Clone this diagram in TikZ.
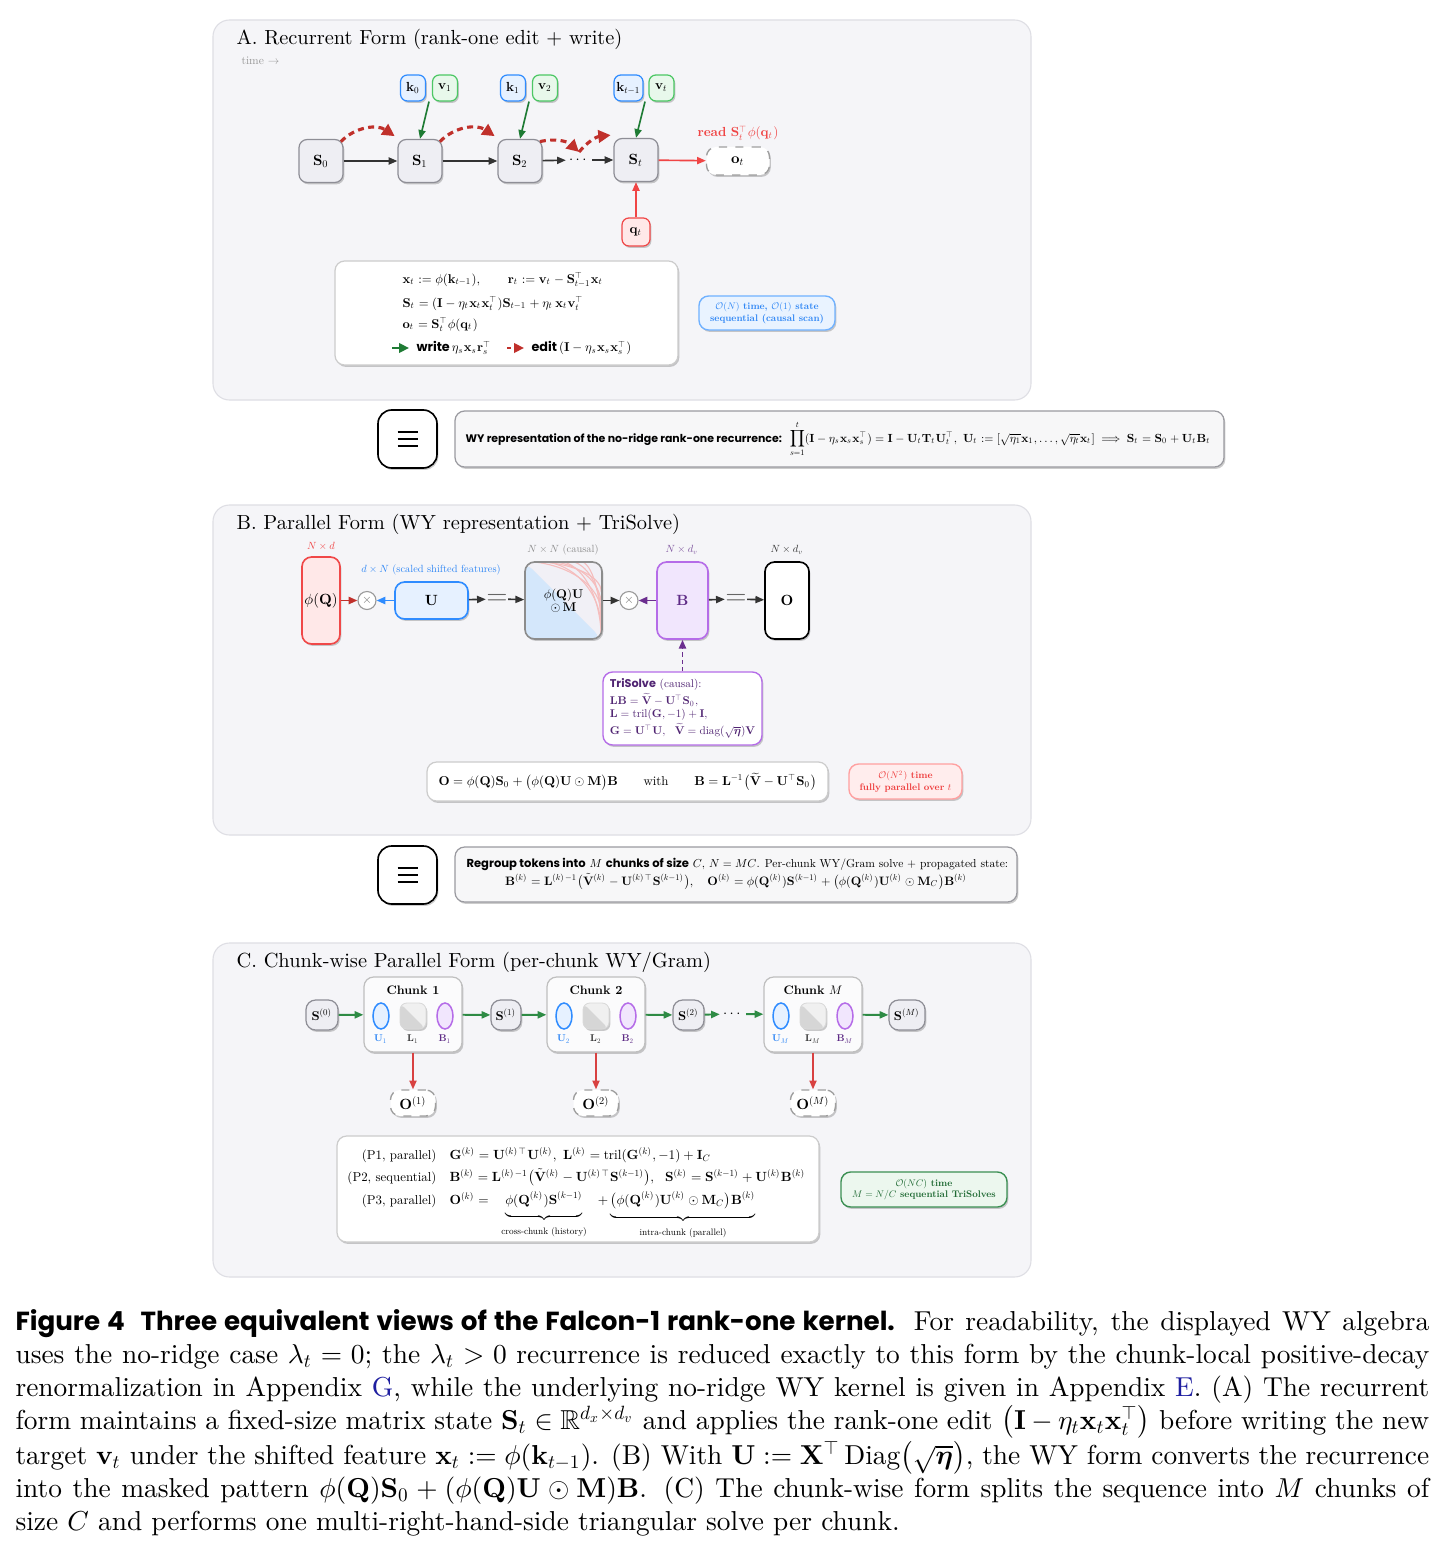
\documentclass[tikz,border=0pt]{standalone}
\usepackage{amsmath,amssymb,bm}
\usepackage{fontspec}
\setmainfont{lmroman10-regular.otf}[BoldFont=lmroman10-bold.otf, ItalicFont=lmroman10-italic.otf, BoldItalicFont=lmroman10-bolditalic.otf]
\newfontfamily\popf{Poppins}
\DeclareFontShape{OML}{cmm}{m}{it}{<->cmmi10}{}
\DeclareFontShape{OML}{cmm}{b}{it}{<->cmmib10}{}
\DeclareFontShape{OMS}{cmsy}{m}{n}{<->cmsy10}{}
\DeclareFontShape{OMS}{cmsy}{b}{n}{<->cmbsy10}{}
\DeclareFontShape{OMX}{cmex}{m}{n}{<->cmex10}{}
\DeclareFontShape{OT1}{cmr}{m}{n}{<->cmr10}{}
\DeclareFontShape{OT1}{cmr}{bx}{n}{<->cmbx10}{}
\usetikzlibrary{arrows.meta,shadows,calc,shapes.geometric}
\newcommand\pxu{0.365pt}
\definecolor{panelbg}{HTML}{F5F5F8}
\definecolor{panelline}{HTML}{DEDEE4}
\definecolor{statefill}{HTML}{EEEEF3}
\definecolor{stateline}{HTML}{8E8E96}
\definecolor{kline}{HTML}{2F8CFF}
\definecolor{kfill}{HTML}{E6F1FF}
\definecolor{vline}{HTML}{4CC764}
\definecolor{vfill}{HTML}{E8F8EB}
\definecolor{qline}{HTML}{F04848}
\definecolor{qfill}{HTML}{FFE8E8}
\definecolor{arrgreen}{HTML}{1E7B34}
\definecolor{chgreen}{HTML}{2E8B45}
\definecolor{arrgray}{HTML}{333333}
\definecolor{editred}{HTML}{C0302B}
\definecolor{readred}{HTML}{F04545}
\definecolor{cxbfill}{HTML}{E9F3FF}
\definecolor{cxbline}{HTML}{6FB1FF}
\definecolor{cxbtext}{HTML}{2E86F5}
\definecolor{cxrfill}{HTML}{FFEDED}
\definecolor{cxrline}{HTML}{FFA0A0}
\definecolor{cxrtext}{HTML}{EE3B3B}
\definecolor{cxgfill}{HTML}{ECF7EE}
\definecolor{cxgline}{HTML}{3A8F52}
\definecolor{cxgtext}{HTML}{1F6A33}
\definecolor{purpline}{HTML}{B56CE8}
\definecolor{purpfill}{HTML}{F1E6FD}
\definecolor{purptext}{HTML}{5E2B86}
\definecolor{purparr}{HTML}{6B2E8F}
\definecolor{maskblue}{HTML}{D4E7FB}
\definecolor{maskbg}{HTML}{F1F0F6}
\definecolor{maskpink}{HTML}{F5BDBD}
\definecolor{linkblue}{HTML}{1F1FA0}
\definecolor{barfill}{HTML}{F7F7F8}
\definecolor{barline}{HTML}{9A9AA0}
\newcommand\fsT{\fontsize{7.45}{9}\selectfont}
\newcommand\fsS{\fontsize{5.4}{6.4}\selectfont}
\newcommand\fsK{\fontsize{4.8}{5.7}\selectfont}
\newcommand\fsF{\fontsize{4.65}{5.6}\selectfont}
\newcommand\fsFB{\fontsize{4.7}{5.6}\selectfont}
\newcommand\fsX{\fontsize{3.5}{4.3}\selectfont}
\newcommand\fsW{\fontsize{4.3}{5}\selectfont}
\newcommand\fsWs{\fontsize{4.0}{5}\selectfont}
\newcommand\fsD{\fontsize{3.8}{4.5}\selectfont}
\newcommand\fsM{\fontsize{4.6}{5.3}\selectfont}
\newcommand\fsE{\fontsize{10}{10}\selectfont}
\newcommand\fsTr{\fontsize{4.1}{4.85}\selectfont}
\newcommand\fsRa{\fontsize{4.22}{5.2}\selectfont}
\newcommand\fsRb{\fontsize{4.45}{5.3}\selectfont}
\newcommand\fsCh{\fontsize{4.5}{5.2}\selectfont}
\newcommand\fsSm{\fontsize{3.6}{4.2}\selectfont}
\newcommand\fsCF{\fontsize{4.7}{5.6}\selectfont}
\newcommand\fsCQ{\fontsize{4.85}{5.8}\selectfont}
\newcommand\fsTi{\fontsize{4.2}{5}\selectfont}
\tikzset{
 panel/.style={draw=panelline, fill=panelbg, rounded corners=6pt, line width=0.4pt},
 shd/.style={drop shadow={shadow xshift=0.5pt, shadow yshift=-0.7pt, opacity=0.2, fill=black}},
 stbox/.style={draw=stateline, fill=statefill, rounded corners=3pt, line width=0.45pt, minimum width=44*\pxu, minimum height=43*\pxu, inner sep=0pt, font=\fsS, shd},
 kbox/.style={draw=kline, fill=kfill, rounded corners=2.5pt, line width=0.45pt, minimum width=25*\pxu, minimum height=26*\pxu, inner sep=0pt, font=\fsK, shd},
 vbox/.style={kbox, draw=vline, fill=vfill},
 qbox/.style={kbox, draw=qline, fill=qfill, minimum width=28*\pxu, minimum height=28*\pxu},
 outbox/.style={draw=gray!75, dashed, fill=white, rounded corners=3.5pt, line width=0.5pt, minimum width=63*\pxu, minimum height=28*\pxu, inner sep=0pt, font=\fsS, shd},
 formbox/.style={draw=black!20, fill=white, rounded corners=3.5pt, line width=0.45pt, inner sep=0pt, shd},
 fml/.style={font=\fsF, inner sep=0pt},
 cx/.style={rounded corners=3.5pt, line width=0.5pt, inner sep=0pt, align=center, font=\fsX\bfseries, shd},
 sepbox/.style={draw=black, fill=white, rounded corners=5pt, line width=0.6pt, minimum width=59*\pxu, minimum height=58*\pxu, shd},
 bar/.style={draw=barline, fill=barfill, rounded corners=3.5pt, line width=0.45pt, inner sep=0pt, shd},
 ttl/.style={font=\fsT, anchor=base west, inner sep=0pt},
 dimlbl/.style={font=\fsD, inner sep=0pt},
 blk/.style={-{Triangle[length=3.2pt,width=2.6pt]}, draw=arrgray, line width=0.6pt},
 grn/.style={-{Triangle[length=3.2pt,width=2.6pt]}, draw=arrgreen, line width=0.6pt},
 cgrn/.style={-{Triangle[length=3.2pt,width=2.6pt]}, draw=chgreen, line width=0.7pt},
 redarr/.style={-{Triangle[length=3.2pt,width=2.6pt]}, draw=readred, line width=0.6pt},
 darkredarr/.style={-{Triangle[length=3.2pt,width=2.6pt]}, draw=editred, line width=0.7pt},
 bluearr/.style={-{Triangle[length=3.2pt,width=2.6pt]}, draw=kline, line width=0.7pt},
 purparrow/.style={-{Triangle[length=3.2pt,width=2.6pt]}, draw=purparr, line width=0.7pt},
 purpdash/.style={-{Triangle[length=3.2pt,width=2.6pt]}, draw=purparr, line width=0.7pt, dash pattern=on 1.5pt off 1.2pt},
 editarc/.style={-{Triangle[length=4.5pt,width=4.5pt]}, draw=editred, line width=1.15pt, dash pattern=on 2.2pt off 1.6pt},
 timesn/.style={circle, draw=gray!80, fill=white, line width=0.4pt, minimum size=18*\pxu, inner sep=0pt, font=\fsM, text=gray!90!black},
 eqs/.style={font=\fsE, text=black!60, inner sep=0pt},
 tallbox/.style={rounded corners=3.5pt, line width=0.6pt, inner sep=0pt, font=\fsS, shd},
 cstbox/.style={draw=stateline, fill=statefill, rounded corners=3.5pt, line width=0.45pt, minimum height=30*\pxu, inner sep=0pt, font=\fsF, shd},
 chunk/.style={draw=black!25, fill=white!60!panelbg, rounded corners=3.5pt, line width=0.45pt, minimum width=98*\pxu, minimum height=75*\pxu, shd},
 uell/.style={ellipse, draw=kline, fill=kfill, line width=0.55pt, minimum width=16*\pxu, minimum height=26*\pxu, inner sep=0pt},
 bell/.style={uell, draw=purpline, fill=purpfill},
 lsq/.style={draw=black!15, fill=black!6, rounded corners=2.5pt, line width=0.3pt, minimum width=26*\pxu, minimum height=26*\pxu, inner sep=0pt, shd,
   path picture={\fill[black!16] (path picture bounding box.north west) -- (path picture bounding box.south east) -- (path picture bounding box.south west) -- cycle;}},
 smlbl/.style={font=\fsSm, inner sep=0pt},
 oc/.style={draw=gray!75, dashed, fill=white, rounded corners=3.5pt, line width=0.5pt, minimum width=45*\pxu, minimum height=26*\pxu, inner sep=0pt, font=\fsS, shd},
}
\begin{document}
\begin{tikzpicture}[x=0.365pt, y=-0.365pt]
\useasboundingbox (0,0) rectangle (1443,1549);
\fill[white] (0,0) rectangle (1443,1549);
% ================= Panel A
\draw[panel] (213,20) rectangle (1031,400);
\node[ttl] (tA) at (236,45) {A. Recurrent Form (rank-one edit $+$ write)};
\node[font=\fsTi, text=black!40, anchor=base west, inner sep=0pt] (time) at (241,65) {time $\rightarrow$};
\node[stbox] (S0) at (321,161) {$\mathbf{S}_0$};
\node[stbox] (S1) at (420,161) {$\mathbf{S}_1$};
\node[stbox] (S2) at (520,161) {$\mathbf{S}_2$};
\node[font=\fsS, inner sep=1pt] (dots) at (579,160) {$\cdots$};
\coordinate (dtop) at (579,152);
\node[stbox] (St) at (636,160) {$\mathbf{S}_t$};
\node[outbox] (ot) at (738,161) {$\mathbf{o}_t$};
\node[font=\fsK, text=readred, inner sep=0pt] (read) at (738,133) {\textbf{read} $\mathbf{S}_t^{\top}\phi(\mathbf{q}_t)$};
\node[qbox] (qt) at (636,232) {$\mathbf{q}_t$};
\node[kbox] (k0) at (413,88) {$\mathbf{k}_0$};
\node[vbox] (v1) at (445,88) {$\mathbf{v}_1$};
\node[kbox] (k1) at (513,88) {$\mathbf{k}_1$};
\node[vbox] (v2) at (545,88) {$\mathbf{v}_2$};
\node[kbox, minimum width=29*\pxu] (kt) at (628.5,88) {$\mathbf{k}_{t-1}$};
\node[vbox] (vt) at (661.5,88) {$\mathbf{v}_t$};
\draw[blk] (S0) -- (S1);
\draw[blk] (S1) -- (S2);
\draw[blk] (S2) -- (dots);
\draw[blk] (dots) -- (St);
\draw[grn] ($(k0.south)!0.5!(v1.south)$) -- (S1.north);
\draw[grn] ($(k1.south)!0.5!(v2.south)$) -- (S2.north);
\draw[grn] ($(kt.south)!0.5!(vt.south)$) -- (St.north);
\draw[editarc] ([shift={(-1pt,-1pt)}]S0.north east) to[bend left=40] ([shift={(-1pt,1pt)}]S1.north west);
\draw[editarc] ([shift={(-1pt,-1pt)}]S1.north east) to[bend left=40] ([shift={(-1pt,1pt)}]S2.north west);
\draw[editarc] ([shift={(-1pt,-1pt)}]S2.north east) to[bend left=28] (dtop);
\draw[editarc] (dtop) to[bend left=22] ([shift={(-1pt,1pt)}]St.north west);
\draw[redarr] (St) -- (ot);
\draw[redarr] (qt) -- (St);
% formula box A
\node[formbox, minimum width=343*\pxu, minimum height=104*\pxu] (fA) at (506.5,313) {};
\node[fml, anchor=base west] (fa1) at (402,283) {$\mathbf{x}_t := \phi(\mathbf{k}_{t-1}),\qquad \mathbf{r}_t := \mathbf{v}_t - \mathbf{S}_{t-1}^{\top}\mathbf{x}_t$};
\node[fml, anchor=base west] (fa2) at (402,307) {$\mathbf{S}_t = (\mathbf{I} - \eta_t\mathbf{x}_t\mathbf{x}_t^{\top})\mathbf{S}_{t-1} + \eta_t\,\mathbf{x}_t\mathbf{v}_t^{\top}$};
\node[fml, anchor=base west] (fa3) at (402,328) {$\mathbf{o}_t = \mathbf{S}_t^{\top}\phi(\mathbf{q}_t)$};
\coordinate (lgA) at (392,348); \coordinate (lgB) at (409,348);
\draw[-{Triangle[length=3.6pt,width=3.4pt]}, draw=arrgreen, line width=1pt] (lgA) -- (lgB);
\node[fml, anchor=west] (lw) at (416,348) {{\popf\bfseries write}\,$\eta_s\mathbf{x}_s\mathbf{r}_s^{\top}$};
\coordinate (lrA) at (507,348); \coordinate (lrB) at (524,348);
\draw[-{Triangle[length=3.6pt,width=3.4pt]}, draw=editred, line width=1pt, dash pattern=on 1.5pt off 1pt] (lrA) -- (lrB);
\node[fml, anchor=west] (le) at (531,348) {{\popf\bfseries edit}\,$(\mathbf{I}-\eta_s\mathbf{x}_s\mathbf{x}_s^{\top})$};
\node[cx, draw=cxbline, fill=cxbfill, text=cxbtext, minimum width=136*\pxu, minimum height=34*\pxu] (cA) at (767,313) {$\mathcal{O}(N)$ time, $\mathcal{O}(1)$ state\\sequential (causal scan)};
% ================= separator 1
\node[sepbox] (eq1) at (407.5,439) {};
\foreach \dy in {-7,0,7} \draw[line width=0.6pt] ($(eq1.center)+(-10,\dy)$) -- ($(eq1.center)+(10,\dy)$);
\node[bar, minimum width=769*\pxu, minimum height=56*\pxu] (wy) at (839.5,439) {};
\node[anchor=west, font=\fsW, inner sep=0pt] (wyt) at (465,439) {{\popf\bfseries\fsWs WY representation of the no-ridge rank-one recurrence:}\ \ $\displaystyle\prod_{s=1}^{t}(\mathbf{I}-\eta_s\mathbf{x}_s\mathbf{x}_s^{\top}) = \mathbf{I}-\mathbf{U}_t\mathbf{T}_t\mathbf{U}_t^{\top},\ \mathbf{U}_t := [\sqrt{\eta_1}\mathbf{x}_1,\ldots,\sqrt{\eta_t}\mathbf{x}_t] \implies \mathbf{S}_t = \mathbf{S}_0 + \mathbf{U}_t\mathbf{B}_t$};
% ================= Panel B
\draw[panel] (213,505) rectangle (1031,835);
\node[ttl] (tB) at (236,529) {B. Parallel Form (WY representation $+$ TriSolve)};
\node[tallbox, draw=qline, fill=qfill, minimum width=38*\pxu, minimum height=87*\pxu] (phiQ) at (321,600.5) {$\phi(\mathbf{Q})$};
\node[dimlbl, text=readred] (dQ) at (321,546) {$N\times d$};
\node[timesn] (x1) at (367,600.5) {$\times$};
\node[tallbox, draw=kline, fill=kfill, minimum width=73*\pxu, minimum height=37*\pxu] (U) at (431.5,600.5) {$\mathbf{U}$};
\node[dimlbl, text=cxbtext] (dU) at (431,570) {$d\times N$ (scaled shifted features)};
\node[eqs] (e1) at (497,599) {$=$};
\node[tallbox, draw=black!45, fill=maskbg, minimum width=77*\pxu, minimum height=77*\pxu,
  path picture={
   \fill[maskblue] (path picture bounding box.north west) -- (path picture bounding box.south east) -- (path picture bounding box.south west) -- cycle;
   \foreach \a/\b in {8/27,12/21,16/29,20/16,23/25,26/11,29/19}{
     \draw[maskpink, line width=0.4pt] ($(path picture bounding box.north east)+(-\a pt,0.3pt)$) .. controls ($(path picture bounding box.north east)+(-0.45*\a pt,0pt)$) and ($(path picture bounding box.north east)+(0pt,-0.45*\b pt)$) .. ($(path picture bounding box.north east)+(-0.3pt,-\b pt)$);
   }
  }] (mask) at (563.5,600.5) {};
\node[font=\fsM, align=center, inner sep=0pt] (maskt) at (563.5,600.5) {$\phi(\mathbf{Q})\mathbf{U}$\\[-0.5pt]$\odot\,\mathbf{M}$};
\node[dimlbl, text=black!45] (dM) at (563,550) {$N\times N$ (causal)};
\node[timesn] (x2) at (629,600.5) {$\times$};
\node[tallbox, draw=purpline, fill=purpfill, text=purptext, minimum width=51*\pxu, minimum height=77*\pxu] (B) at (682.5,600.5) {$\mathbf{B}$};
\node[dimlbl, text=purptext!80] (dB) at (682,550) {$N\times d_v$};
\node[eqs] (e2) at (736,599) {$=$};
\node[tallbox, draw=black, fill=white, minimum width=44*\pxu, minimum height=77*\pxu] (O) at (787,600.5) {$\mathbf{O}$};
\node[dimlbl, text=black!80] (dO) at (787,550) {$N\times d_v$};
\draw[darkredarr] (phiQ) -- (x1);
\draw[bluearr] (U) -- (x1);
\draw[blk] (U) -- (e1);
\draw[blk] (e1) -- (mask);
\draw[blk] (mask) -- (x2);
\draw[purparrow] (B) -- (x2);
\draw[blk] (B) -- (e2);
\draw[blk] (e2) -- (O);
\node[draw=purpline, fill=white, rounded corners=3.5pt, line width=0.5pt, minimum width=159*\pxu, minimum height=73*\pxu, inner sep=0pt, align=left, font=\fsTr, text=purptext!85!black, shd] (tri) at (682.5,708.5)
 {{\popf\bfseries TriSolve} (causal):\\
  $\mathbf{L}\mathbf{B} = \widetilde{\mathbf{V}} - \mathbf{U}^{\top}\mathbf{S}_0,$\\
  $\mathbf{L} = \mathrm{tril}(\mathbf{G},-1) + \mathbf{I},$\\
  $\mathbf{G} = \mathbf{U}^{\top}\mathbf{U},\ \ \widetilde{\mathbf{V}} = \mathrm{diag}(\sqrt{\bm{\eta}})\mathbf{V}$};
\draw[purpdash] (tri) -- (B);
\node[formbox, minimum width=401*\pxu, minimum height=39*\pxu, font=\fsFB] (fB) at (627.5,781.5) {$\mathbf{O} = \phi(\mathbf{Q})\mathbf{S}_0 + \bigl(\phi(\mathbf{Q})\mathbf{U}\odot\mathbf{M}\bigr)\mathbf{B}$\qquad with\qquad $\mathbf{B} = \mathbf{L}^{-1}\bigl(\widetilde{\mathbf{V}} - \mathbf{U}^{\top}\mathbf{S}_0\bigr)$};
\node[cx, draw=cxrline, fill=cxrfill, text=cxrtext, minimum width=113*\pxu, minimum height=35*\pxu] (cB) at (905.5,781.5) {$\mathcal{O}(N^2)$ time\\fully parallel over $t$};
% ================= separator 2
\node[sepbox] (eq2) at (407.5,875) {};
\foreach \dy in {-7,0,7} \draw[line width=0.6pt] ($(eq2.center)+(-10,\dy)$) -- ($(eq2.center)+(10,\dy)$);
\node[bar, minimum width=562*\pxu, minimum height=55*\pxu] (rg) at (736,874.5) {};
\node[anchor=base west, font=\fsRa, inner sep=0pt] (rg1) at (466,867) {{\popf\bfseries Regroup tokens into} $M$ {\popf\bfseries chunks of size} $C$, $N = MC$. Per-chunk WY/Gram solve $+$ propagated state:};
\node[anchor=base, font=\fsRb, inner sep=0pt] (rg2) at (736,885) {$\mathbf{B}^{(k)} = \mathbf{L}^{(k)\,-1}\bigl(\tilde{\mathbf{V}}^{(k)} - \mathbf{U}^{(k)\,\top}\mathbf{S}^{(k-1)}\bigr),\quad \mathbf{O}^{(k)} = \phi(\mathbf{Q}^{(k)})\mathbf{S}^{(k-1)} + \bigl(\phi(\mathbf{Q}^{(k)})\mathbf{U}^{(k)}\odot\mathbf{M}_C\bigr)\mathbf{B}^{(k)}$};
% ================= Panel C
\draw[panel] (213,943) rectangle (1031,1277);
\node[ttl] (tC) at (236,967) {C. Chunk-wise Parallel Form (per-chunk WY/Gram)};
\node[cstbox, minimum width=32*\pxu] (c0) at (322,1015) {$\mathbf{S}^{(0)}$};
\node[cstbox, minimum width=30*\pxu] (c1) at (506,1015) {$\mathbf{S}^{(1)}$};
\node[cstbox, minimum width=31*\pxu] (c2) at (688.5,1015) {$\mathbf{S}^{(2)}$};
\node[cstbox, minimum width=36*\pxu] (cM) at (907,1015) {$\mathbf{S}^{(M)}$};
\node[font=\fsS, inner sep=1pt] (cdots) at (733,1014) {$\cdots$};
\foreach \n/\cx/\lab/\sub in {1/413/Chunk 1/1, 2/596/Chunk 2/2, M/813/Chunk $M$/M}{
  \node[chunk] (ch\n) at (\cx,1014.5) {};
  \node[font=\fsCh, inner sep=0pt] (ch\n t) at (\cx,990) {\textbf{\lab}};
  \node[uell] (u\n) at (\cx-32,1016) {};
  \node[lsq] (l\n) at (\cx,1016) {};
  \node[bell] (b\n) at (\cx+32,1016) {};
  \node[smlbl, text=cxbtext] (ul\n) at (\cx-32,1039) {$\mathbf{U}_{\sub}$};
  \node[smlbl, text=black!80] (ll\n) at (\cx,1039) {$\mathbf{L}_{\sub}$};
  \node[smlbl, text=purptext] (bl\n) at (\cx+32,1039) {$\mathbf{B}_{\sub}$};
}
\node[oc] (o1) at (413,1103) {$\mathbf{O}^{(1)}$};
\node[oc] (o2) at (596,1103) {$\mathbf{O}^{(2)}$};
\node[oc] (oM) at (813,1103) {$\mathbf{O}^{(M)}$};
\draw[cgrn] (c0) -- (ch1);
\draw[cgrn] (ch1) -- (c1);
\draw[cgrn] (c1) -- (ch2);
\draw[cgrn] (ch2) -- (c2);
\draw[cgrn] (c2) -- (cdots);
\draw[cgrn] (cdots) -- (chM);
\draw[cgrn] (chM) -- (cM);
\draw[redarr, draw=qline!90!black] (ch1) -- (o1);
\draw[redarr, draw=qline!90!black] (ch2) -- (o2);
\draw[redarr, draw=qline!90!black] (chM) -- (oM);
\node[formbox, minimum width=482*\pxu, minimum height=106*\pxu] (fC) at (578,1189) {};
\node[font=\fsCF, inner sep=0pt, anchor=base east] (p1) at (437,1159) {(P1, parallel)};
\node[font=\fsCF, inner sep=0pt, anchor=base east] (p2) at (437,1181) {(P2, sequential)};
\node[font=\fsCF, inner sep=0pt, anchor=base east] (p3) at (437,1204) {(P3, parallel)};
\node[font=\fsCQ, inner sep=0pt, anchor=base west] (q1) at (449,1159) {$\mathbf{G}^{(k)} = \mathbf{U}^{(k)\,\top}\mathbf{U}^{(k)},\ \mathbf{L}^{(k)} = \mathrm{tril}(\mathbf{G}^{(k)},-1) + \mathbf{I}_C$};
\node[font=\fsCQ, inner sep=0pt, anchor=base west] (q2) at (449,1181) {$\mathbf{B}^{(k)} = \mathbf{L}^{(k)\,-1}\bigl(\tilde{\mathbf{V}}^{(k)} - \mathbf{U}^{(k)\,\top}\mathbf{S}^{(k-1)}\bigr),\ \ \mathbf{S}^{(k)} = \mathbf{S}^{(k-1)} + \mathbf{U}^{(k)}\mathbf{B}^{(k)}$};
\node[font=\fsCQ, inner sep=0pt, anchor=base west] (q3) at (449,1204) {$\mathbf{O}^{(k)} =\ \ \underbrace{\phi(\mathbf{Q}^{(k)})\mathbf{S}^{(k-1)}}_{\text{cross-chunk (history)}}\ \ +\underbrace{\bigl(\phi(\mathbf{Q}^{(k)})\mathbf{U}^{(k)}\odot\mathbf{M}_C\bigr)\mathbf{B}^{(k)}}_{\text{intra-chunk (parallel)}}$};
\node[cx, draw=cxgline, fill=cxgfill, text=cxgtext, minimum width=166*\pxu, minimum height=35*\pxu] (cC) at (924,1189.5) {$\mathcal{O}(NC)$ time\\$M = N/C$ sequential TriSolves};
% ================= Caption
\node[anchor=north west, inner sep=0pt, text width=516pt, align=justify, font=\fontsize{10}{12}\selectfont] (cap) at (15,1309) {{\popf\bfseries\fontsize{9.55}{12}\selectfont Figure 4\hspace{0.6em}Three equivalent views of the Falcon-1 rank-one kernel.} For readability, the displayed WY algebra\linebreak
uses the no-ridge case $\lambda_t = 0$; the $\lambda_t > 0$ recurrence is reduced exactly to this form by the chunk-local positive-decay\linebreak
renormalization in Appendix {\color{linkblue}G}, while the underlying no-ridge WY kernel is given in Appendix {\color{linkblue}E}. (A) The recurrent\linebreak
form maintains a fixed-size matrix state $\mathbf{S}_t \in \mathbb{R}^{d_x\times d_v}$ and applies the rank-one edit $\bigl(\mathbf{I}-\eta_t\mathbf{x}_t\mathbf{x}_t^{\top}\bigr)$ before writing the new\linebreak
target $\mathbf{v}_t$ under the shifted feature $\mathbf{x}_t := \phi(\mathbf{k}_{t-1})$. (B) With $\mathbf{U} := \mathbf{X}^{\top}\,\mathrm{Diag}\bigl(\sqrt{\bm{\eta}}\bigr)$, the WY form converts the recurrence\linebreak
into the masked pattern $\phi(\mathbf{Q})\mathbf{S}_0 + (\phi(\mathbf{Q})\mathbf{U}\odot\mathbf{M})\mathbf{B}$. (C) The chunk-wise form splits the sequence into $M$ chunks of\linebreak
size $C$ and performs one multi-right-hand-side triangular solve per chunk.};
\end{tikzpicture}
\end{document}
